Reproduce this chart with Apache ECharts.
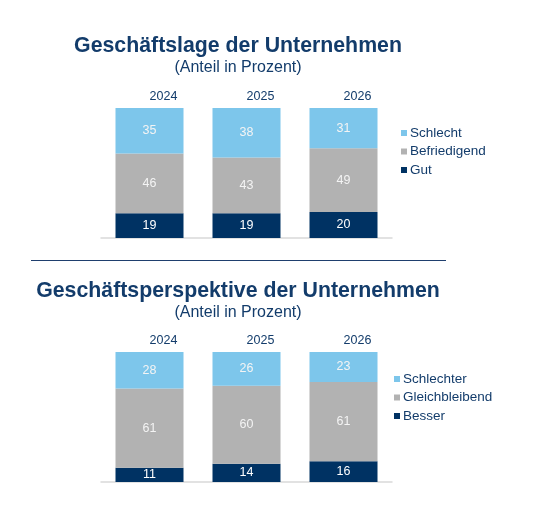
<!DOCTYPE html>
<html>
<head>
<meta charset="utf-8">
<script src="https://cdn.jsdelivr.net/npm/echarts@6/dist/echarts.min.js"></script>
<style>
  html, body { margin: 0; padding: 0; background: #fff; }
  #main { width: 536px; height: 525px; }
</style>
</head>
<body>
<div id="main"></div>
<script>
var myChart = echarts.init(document.getElementById('main'))

// Daten
var years = ['2024', '2025', '2026']

var lageNames = ['Gut', 'Befriedigend', 'Schlecht']
var lageGut = [19, 19, 20]
var lageBefriedigend = [46, 43, 49]
var lageSchlecht = [35, 38, 31]

var perspNames = ['Besser', 'Gleichbleibend', 'Schlechter']
var perspBesser = [11, 14, 16]
var perspGleich = [61, 60, 61]
var perspSchlechter = [28, 26, 23]

var colorConfig = ['#003263', '#b2b2b2', '#7dc6eb']
var navy = '#133c6b'
var fontFamily = '"Liberation Sans", Arial, sans-serif'

function makeSeries(names, lists, gridIdx) {
  var out = []
  for (let index = 0; index < names.length; index++) {
    out.push({
      name: names[index],
      type: 'bar',
      stack: 'g' + gridIdx,
      xAxisIndex: gridIdx * 2,
      yAxisIndex: gridIdx,
      barWidth: 68,
      data: lists[index],
      itemStyle: { color: colorConfig[index] },
      label: {
        show: true,
        position: 'inside',
        color: index === 0 ? '#ffffff' : '#f4f4f4',
        fontSize: 12.5,
        fontFamily: fontFamily,
      },
    })
  }
  return out
}

function bottomAxis(gridIdx) {
  return {
    type: 'category',
    gridIndex: gridIdx,
    data: years,
    position: 'bottom',
    axisLine: { show: true, lineStyle: { color: '#d9d9d9', width: 1.5 } },
    axisTick: { show: false },
    axisLabel: { show: false },
  }
}

function topAxis(gridIdx) {
  return {
    type: 'category',
    gridIndex: gridIdx,
    data: years,
    position: 'top',
    axisLine: { show: false },
    axisTick: { show: false },
    axisLabel: {
      show: true,
      margin: 5,
      color: navy,
      fontSize: 12.5,
      fontFamily: fontFamily,
      padding: [0, 0, 0, 28],
    },
  }
}

function legendFor(names, left, top) {
  return {
    data: names.slice().reverse(),
    orient: 'vertical',
    left: left,
    top: top,
    itemWidth: 6,
    itemHeight: 6,
    itemGap: 2.5,
    icon: 'rect',
    selectedMode: false,
    textStyle: {
      color: navy,
      fontSize: 13.5,
      lineHeight: 16,
      fontFamily: fontFamily,
      padding: [0, 0, 0, -2],
    },
  }
}

var option = {
  animation: false,
  textStyle: { fontFamily: fontFamily },
  title: [
    {
      text: 'Geschäftslage der Unternehmen',
      subtext: '(Anteil in Prozent)',
      left: 233,
      top: 31,
      textAlign: 'center',
      itemGap: 2.5,
      textStyle: { color: navy, fontSize: 21.3, fontWeight: 'bold', fontFamily: fontFamily },
      subtextStyle: { color: navy, fontSize: 16, fontFamily: fontFamily },
    },
    {
      text: 'Geschäftsperspektive der Unternehmen',
      subtext: '(Anteil in Prozent)',
      left: 233,
      top: 276,
      textAlign: 'center',
      itemGap: 2.5,
      textStyle: { color: navy, fontSize: 21.3, fontWeight: 'bold', fontFamily: fontFamily },
      subtextStyle: { color: navy, fontSize: 16, fontFamily: fontFamily },
    },
  ],
  legend: [legendFor(lageNames, 396, 120), legendFor(perspNames, 389, 366)],
  grid: [
    { left: 101, width: 291, top: 108, height: 130 },
    { left: 101, width: 291, top: 352, height: 130 },
  ],
  xAxis: [bottomAxis(0), topAxis(0), bottomAxis(1), topAxis(1)],
  yAxis: [
    { type: 'value', gridIndex: 0, min: 0, max: 100, show: false },
    { type: 'value', gridIndex: 1, min: 0, max: 100, show: false },
  ],
  graphic: [
    {
      type: 'line',
      shape: { x1: 31, y1: 260.5, x2: 446, y2: 260.5 },
      style: { stroke: '#1f3f6e', lineWidth: 1.2 },
    },
  ],
  series: makeSeries(lageNames, [lageGut, lageBefriedigend, lageSchlecht], 0).concat(
    makeSeries(perspNames, [perspBesser, perspGleich, perspSchlechter], 1)
  ),
}

myChart.setOption(option)
</script>
</body>
</html>
